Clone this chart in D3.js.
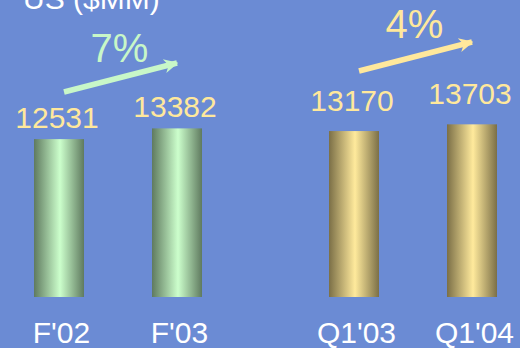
<!DOCTYPE html>
<html>
<head>
<meta charset="utf-8">
<script src="https://cdn.jsdelivr.net/npm/d3@7"></script>
<style>
  html, body { margin: 0; padding: 0; background: #6b8bd4; }
  svg { display: block; font-family: "Liberation Sans", Arial, sans-serif; }
</style>
</head>
<body>
<svg id="chart" width="520" height="348"></svg>
<script>
// Revenue figures, US ($MM)
const categories = ["F'02", "F'03", "Q1'03", "Q1'04"];
const groups = [0, 0, 1, 1];          // fiscal years vs. first quarters
const values = [12531, 13382, 13170, 13703];
const title = "US ($MM)";

const W = 520, H = 348;
const svg = d3.select("#chart");

const palettes = [
  { dark: "#5f7a5f", light: "#ccffcc", text: "#c8f7c8" },
  { dark: "#7b6f47", light: "#ffea9c", text: "#ffe89c" }
];

// Gradients that give each bar a rounded, cylindrical look
const defs = svg.append("defs");
palettes.forEach((p, i) => {
  const g = defs.append("linearGradient").attr("id", "cyl" + i)
    .attr("x1", "0%").attr("x2", "100%").attr("y1", "0%").attr("y2", "0%");
  g.append("stop").attr("offset", "0%").attr("stop-color", p.dark);
  g.append("stop").attr("offset", "52%").attr("stop-color", p.light);
  g.append("stop").attr("offset", "100%").attr("stop-color", p.dark);
  defs.append("marker").attr("id", "head" + i)
    .attr("viewBox", "0 0 10 10").attr("refX", 9).attr("refY", 5)
    .attr("markerWidth", 2.6).attr("markerHeight", 3.4)
    .attr("markerUnits", "strokeWidth").attr("orient", "auto")
    .append("path").attr("d", "M0,0 L10,5 L0,10 L3,5 Z").attr("fill", p.text);
});

// Slot positions: the two groups are separated by an extra half step
const slots = categories.map((c, i) => i + 0.5 * groups[i]);
const x = d3.scaleLinear().domain([0, 3.5]).range([59, 472]);
const y = d3.scaleLinear().domain([0, 15000]).range([297, 108]);
const barW = 50;

svg.append("g").selectAll("rect")
  .data(values)
  .join("rect")
  .attr("x", (d, i) => x(slots[i]) - barW / 2)
  .attr("width", barW)
  .attr("y", d => y(d))
  .attr("height", d => y(0) - y(d))
  .attr("fill", (d, i) => `url(#cyl${groups[i]})`);

// Value labels above bars
const labelGap = [11, 20];
svg.append("g").selectAll("text")
  .data(values)
  .join("text")
  .attr("x", (d, i) => x(slots[i]) - 2)
  .attr("y", (d, i) => y(d) - labelGap[groups[i]])
  .attr("text-anchor", "middle")
  .attr("font-size", 30)
  .attr("fill", "#ffe89c")
  .text(d => d);

// Category axis along the bottom
const axis = d3.axisBottom(x)
  .tickValues(slots)
  .tickFormat((d, i) => categories[i])
  .tickSize(0).tickPadding(0);
const axG = svg.append("g").attr("transform", "translate(0,320)").call(axis);
axG.select(".domain").remove();
axG.selectAll("text")
  .attr("font-size", 30).attr("fill", "#ffffff")
  .attr("font-family", "Liberation Sans, Arial, sans-serif")
  .attr("dy", "0.78em").attr("dx", 2);

// Growth arrows with percentage change for each pair
[0, 1].forEach(gi => {
  const idx = groups.map((g, i) => g === gi ? i : -1).filter(i => i >= 0);
  const a = values[idx[0]], b = values[idx[1]];
  const pct = Math.round((b / a - 1) * 100) + "%";
  const x0 = x(slots[idx[0]]) + 5, x1 = x(slots[idx[1]]);
  const y0 = gi === 0 ? 92 : 71, y1 = gi === 0 ? 63 : 42;
  svg.append("line")
    .attr("x1", x0).attr("y1", y0).attr("x2", x1).attr("y2", y1)
    .attr("stroke", palettes[gi].text).attr("stroke-width", 5.5)
    .attr("marker-end", `url(#head${gi})`);
  svg.append("text")
    .attr("x", (x0 + x1) / 2 - 1)
    .attr("y", gi === 0 ? 62 : 38)
    .attr("text-anchor", "middle")
    .attr("font-size", 40)
    .attr("fill", palettes[gi].text)
    .text(pct);
});

// Title, partly above the top edge
svg.append("text")
  .attr("x", 23).attr("y", 9)
  .attr("font-size", 30).attr("fill", "#ffffff")
  .text(title);
</script>
</body>
</html>
